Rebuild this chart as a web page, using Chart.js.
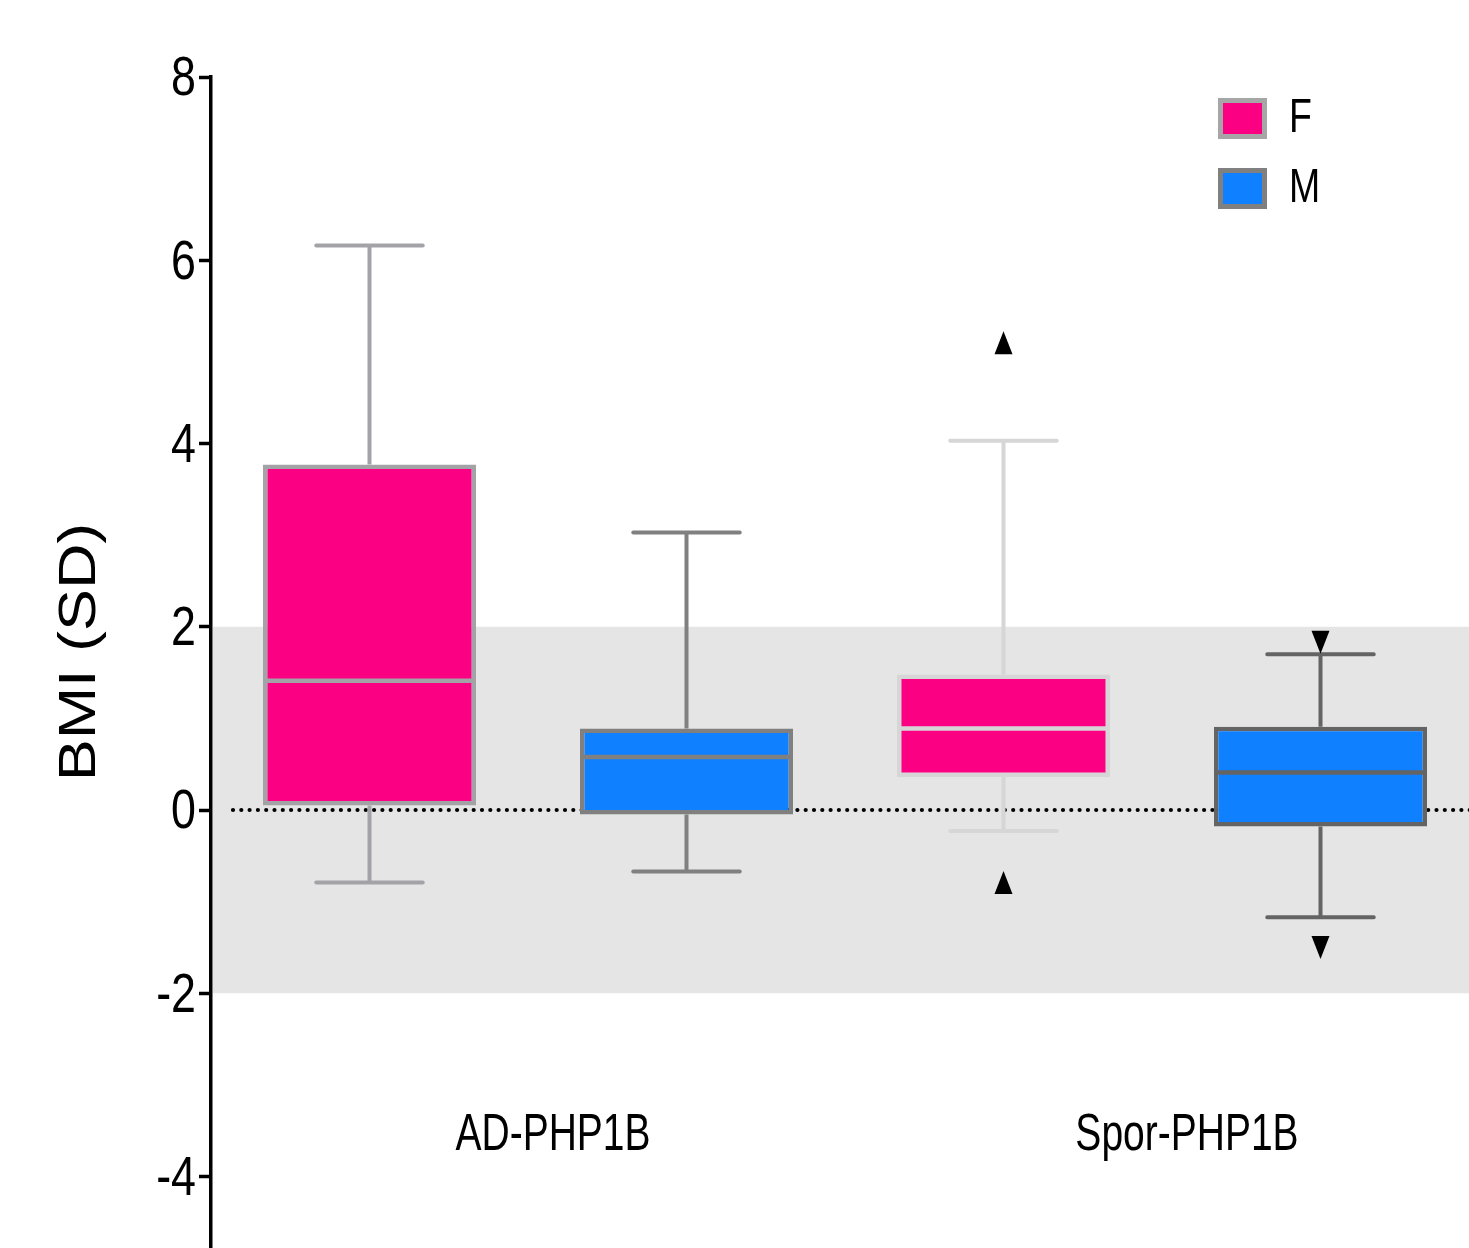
<!DOCTYPE html>
<html>
<head>
<meta charset="utf-8">
<script src="https://cdn.jsdelivr.net/npm/chart.js@4.4.1/dist/chart.umd.min.js"></script>
<style>
  html, body { margin: 0; padding: 0; background: #fff; overflow: hidden; }
  #wrap { width: 1469px; height: 1248px; overflow: hidden; }
</style>
</head>
<body>
<div id="wrap"><canvas id="bmi-chart" width="1479" height="1248"></canvas></div>
<script>
// Categories and series
const groups = ['AD-PHP1B', 'Spor-PHP1B'];
const seriesNames = ['F', 'M'];

// Box statistics (BMI SD)
const femaleMin = [-0.79, -0.23];
const femaleQ1 = [0.05, 0.36];
const femaleMedian = [1.41, 0.89];
const femaleQ3 = [3.77, 1.48];
const femaleMax = [6.16, 4.03];
const femaleOutliers = [[], [5.10, -0.79]];

const maleMin = [-0.67, -1.17];
const maleQ1 = [-0.05, -0.18];
const maleMedian = [0.58, 0.41];
const maleQ3 = [0.89, 0.91];
const maleMax = [3.03, 1.70];
const maleOutliers = [[], [1.83, -1.50]];

const yTicks = [8, 6, 4, 2, 0, -2, -4];
const refBand = [-2, 2];

// Colours
const pink = '#FB0082';
const blue = '#0F80FF';
const femaleBorders = ['#A3A3A7', '#D6D6D6'];
const maleBorders = ['#808080', '#646464'];

const stats = [
    { min: femaleMin, q1: femaleQ1, med: femaleMedian, q3: femaleQ3, max: femaleMax, out: femaleOutliers, up: true },
    { min: maleMin, q1: maleQ1, med: maleMedian, q3: maleQ3, max: maleMax, out: maleOutliers, up: false }
];

const sans = 'Liberation Sans, Arial, sans-serif';

// condensed text helper (no narrow font installed)
function squeezedText(ctx, text, x, y, sx, align) {
    ctx.save();
    ctx.translate(x, y);
    ctx.scale(sx, 1);
    ctx.textAlign = align;
    ctx.fillText(text, 0, 0);
    ctx.restore();
}

// Draws band, zero line, whiskers, medians, outliers, labels and legend
const boxPlugin = {
    id: 'boxExtras',
    beforeDatasetsDraw(chart) {
        const { ctx, chartArea, scales } = chart;
        const y = scales.y;
        ctx.save();
        // grey reference band
        ctx.fillStyle = '#E5E5E5';
        const bTop = y.getPixelForValue(refBand[1]);
        const bBot = y.getPixelForValue(refBand[0]);
        ctx.fillRect(chartArea.left + 2, bTop, chartArea.right - chartArea.left, bBot - bTop);

        // dotted zero line
        ctx.strokeStyle = '#000';
        ctx.lineWidth = 4.2;
        ctx.lineCap = 'round';
        ctx.setLineDash([0, 8.3]);
        ctx.beginPath();
        ctx.moveTo(chartArea.left + 22, y.getPixelForValue(0));
        ctx.lineTo(chartArea.right, y.getPixelForValue(0));
        ctx.stroke();
        ctx.setLineDash([]);

        // whiskers
        ctx.lineWidth = 4;
        stats.forEach((s, di) => {
            const meta = chart.getDatasetMeta(di);
            meta.data.forEach((el, i) => {
                const col = chart.data.datasets[di].borderColor[i];
                const half = el.width / 4;
                ctx.strokeStyle = col;
                ctx.lineCap = 'butt';
                ctx.beginPath();
                ctx.moveTo(el.x, y.getPixelForValue(s.q3[i]));
                ctx.lineTo(el.x, y.getPixelForValue(s.max[i]));
                ctx.moveTo(el.x, y.getPixelForValue(s.q1[i]));
                ctx.lineTo(el.x, y.getPixelForValue(s.min[i]));
                ctx.stroke();
                ctx.lineCap = 'round';
                ctx.beginPath();
                ctx.moveTo(el.x - half, y.getPixelForValue(s.max[i]));
                ctx.lineTo(el.x + half, y.getPixelForValue(s.max[i]));
                ctx.moveTo(el.x - half, y.getPixelForValue(s.min[i]));
                ctx.lineTo(el.x + half, y.getPixelForValue(s.min[i]));
                ctx.stroke();
            });
        });
        ctx.restore();
    },
    afterDatasetsDraw(chart) {
        const { ctx, scales } = chart;
        const y = scales.y;
        ctx.save();
        stats.forEach((s, di) => {
            const meta = chart.getDatasetMeta(di);
            meta.data.forEach((el, i) => {
                // median
                ctx.strokeStyle = chart.data.datasets[di].borderColor[i];
                ctx.lineWidth = 4.5;
                ctx.beginPath();
                ctx.moveTo(el.x - el.width / 2, y.getPixelForValue(s.med[i]));
                ctx.lineTo(el.x + el.width / 2, y.getPixelForValue(s.med[i]));
                ctx.stroke();
                // outliers as tall triangles
                ctx.fillStyle = '#000';
                s.out[i].forEach(v => {
                    const py = y.getPixelForValue(v);
                    const w = 9, h = 11.5;
                    ctx.beginPath();
                    if (s.up) {
                        ctx.moveTo(el.x, py - h);
                        ctx.lineTo(el.x + w, py + h);
                        ctx.lineTo(el.x - w, py + h);
                    } else {
                        ctx.moveTo(el.x, py + h);
                        ctx.lineTo(el.x + w, py - h);
                        ctx.lineTo(el.x - w, py - h);
                    }
                    ctx.closePath();
                    ctx.fill();
                });
            });
        });
        ctx.restore();
    },
    afterDraw(chart) {
        const { ctx, scales } = chart;
        const x = scales.x;
        const y = scales.y;
        ctx.save();
        ctx.fillStyle = '#000';
        ctx.textBaseline = 'middle';

        // y tick labels
        ctx.font = '56px ' + sans;
        y.ticks.forEach(t => {
            squeezedText(ctx, String(t.value), y.right - 15, y.getPixelForValue(t.value) + 3, 0.8, 'right');
        });

        // category labels
        ctx.font = '52px ' + sans;
        groups.forEach((g, i) => {
            squeezedText(ctx, g, x.getPixelForValue(i) + 25, y.getPixelForValue(-3.55), 0.75, 'center');
        });

        // y axis title
        ctx.save();
        ctx.translate(81, 652);
        ctx.rotate(-Math.PI / 2);
        ctx.scale(1.21, 1);
        ctx.font = '52px ' + sans;
        ctx.textAlign = 'center';
        ctx.fillText('BMI (SD)', 0, 0);
        ctx.restore();

        // legend
        const fills = [pink, blue];
        const edges = ['#A6A6A6', '#808080'];
        seriesNames.forEach((name, i) => {
            const top = 98 + i * 70;
            ctx.fillStyle = fills[i];
            ctx.fillRect(1218, top, 49, 41);
            ctx.strokeStyle = edges[i];
            ctx.lineWidth = 5;
            ctx.strokeRect(1220.5, top + 2.5, 44, 36);
            ctx.fillStyle = '#000';
            ctx.font = '48px ' + sans;
            squeezedText(ctx, name, 1289, top + 21, 0.78, 'left');
        });
        ctx.restore();
    }
};

const ctx = document.getElementById('bmi-chart').getContext('2d');
const bmiChart = new Chart(ctx, {
    type: 'bar',
    data: {
        labels: groups,
        datasets: [{
            label: seriesNames[0],
            data: groups.map((g, i) => [femaleQ1[i], femaleQ3[i]]),
            backgroundColor: pink,
            borderColor: femaleBorders,
            borderWidth: 4.5,
            borderSkipped: false
        }, {
            label: seriesNames[1],
            data: groups.map((g, i) => [maleQ1[i], maleQ3[i]]),
            backgroundColor: blue,
            borderColor: maleBorders,
            borderWidth: 4.5,
            borderSkipped: false
        }]
    },
    options: {
        responsive: false,
        animation: false,
        barPercentage: 0.672,
        categoryPercentage: 1.0,
        layout: {
            padding: { top: 77, right: 0, bottom: 0, left: 0 }
        },
        scales: {
            x: {
                display: false
            },
            y: {
                min: -4.78,
                max: 8,
                afterBuildTicks: s => { s.ticks = yTicks.map(v => ({ value: v })); },
                afterFit: s => { s.width = 211; s.paddingTop = 0; s.paddingBottom = 0; },
                border: { color: '#000', width: 3.5 },
                grid: {
                    drawOnChartArea: false,
                    drawTicks: true,
                    tickLength: 12,
                    tickColor: '#000',
                    tickWidth: 3.5
                },
                ticks: { display: false }
            }
        },
        plugins: {
            legend: { display: false },
            tooltip: { enabled: false }
        }
    },
    plugins: [boxPlugin]
});
</script>
</body>
</html>
